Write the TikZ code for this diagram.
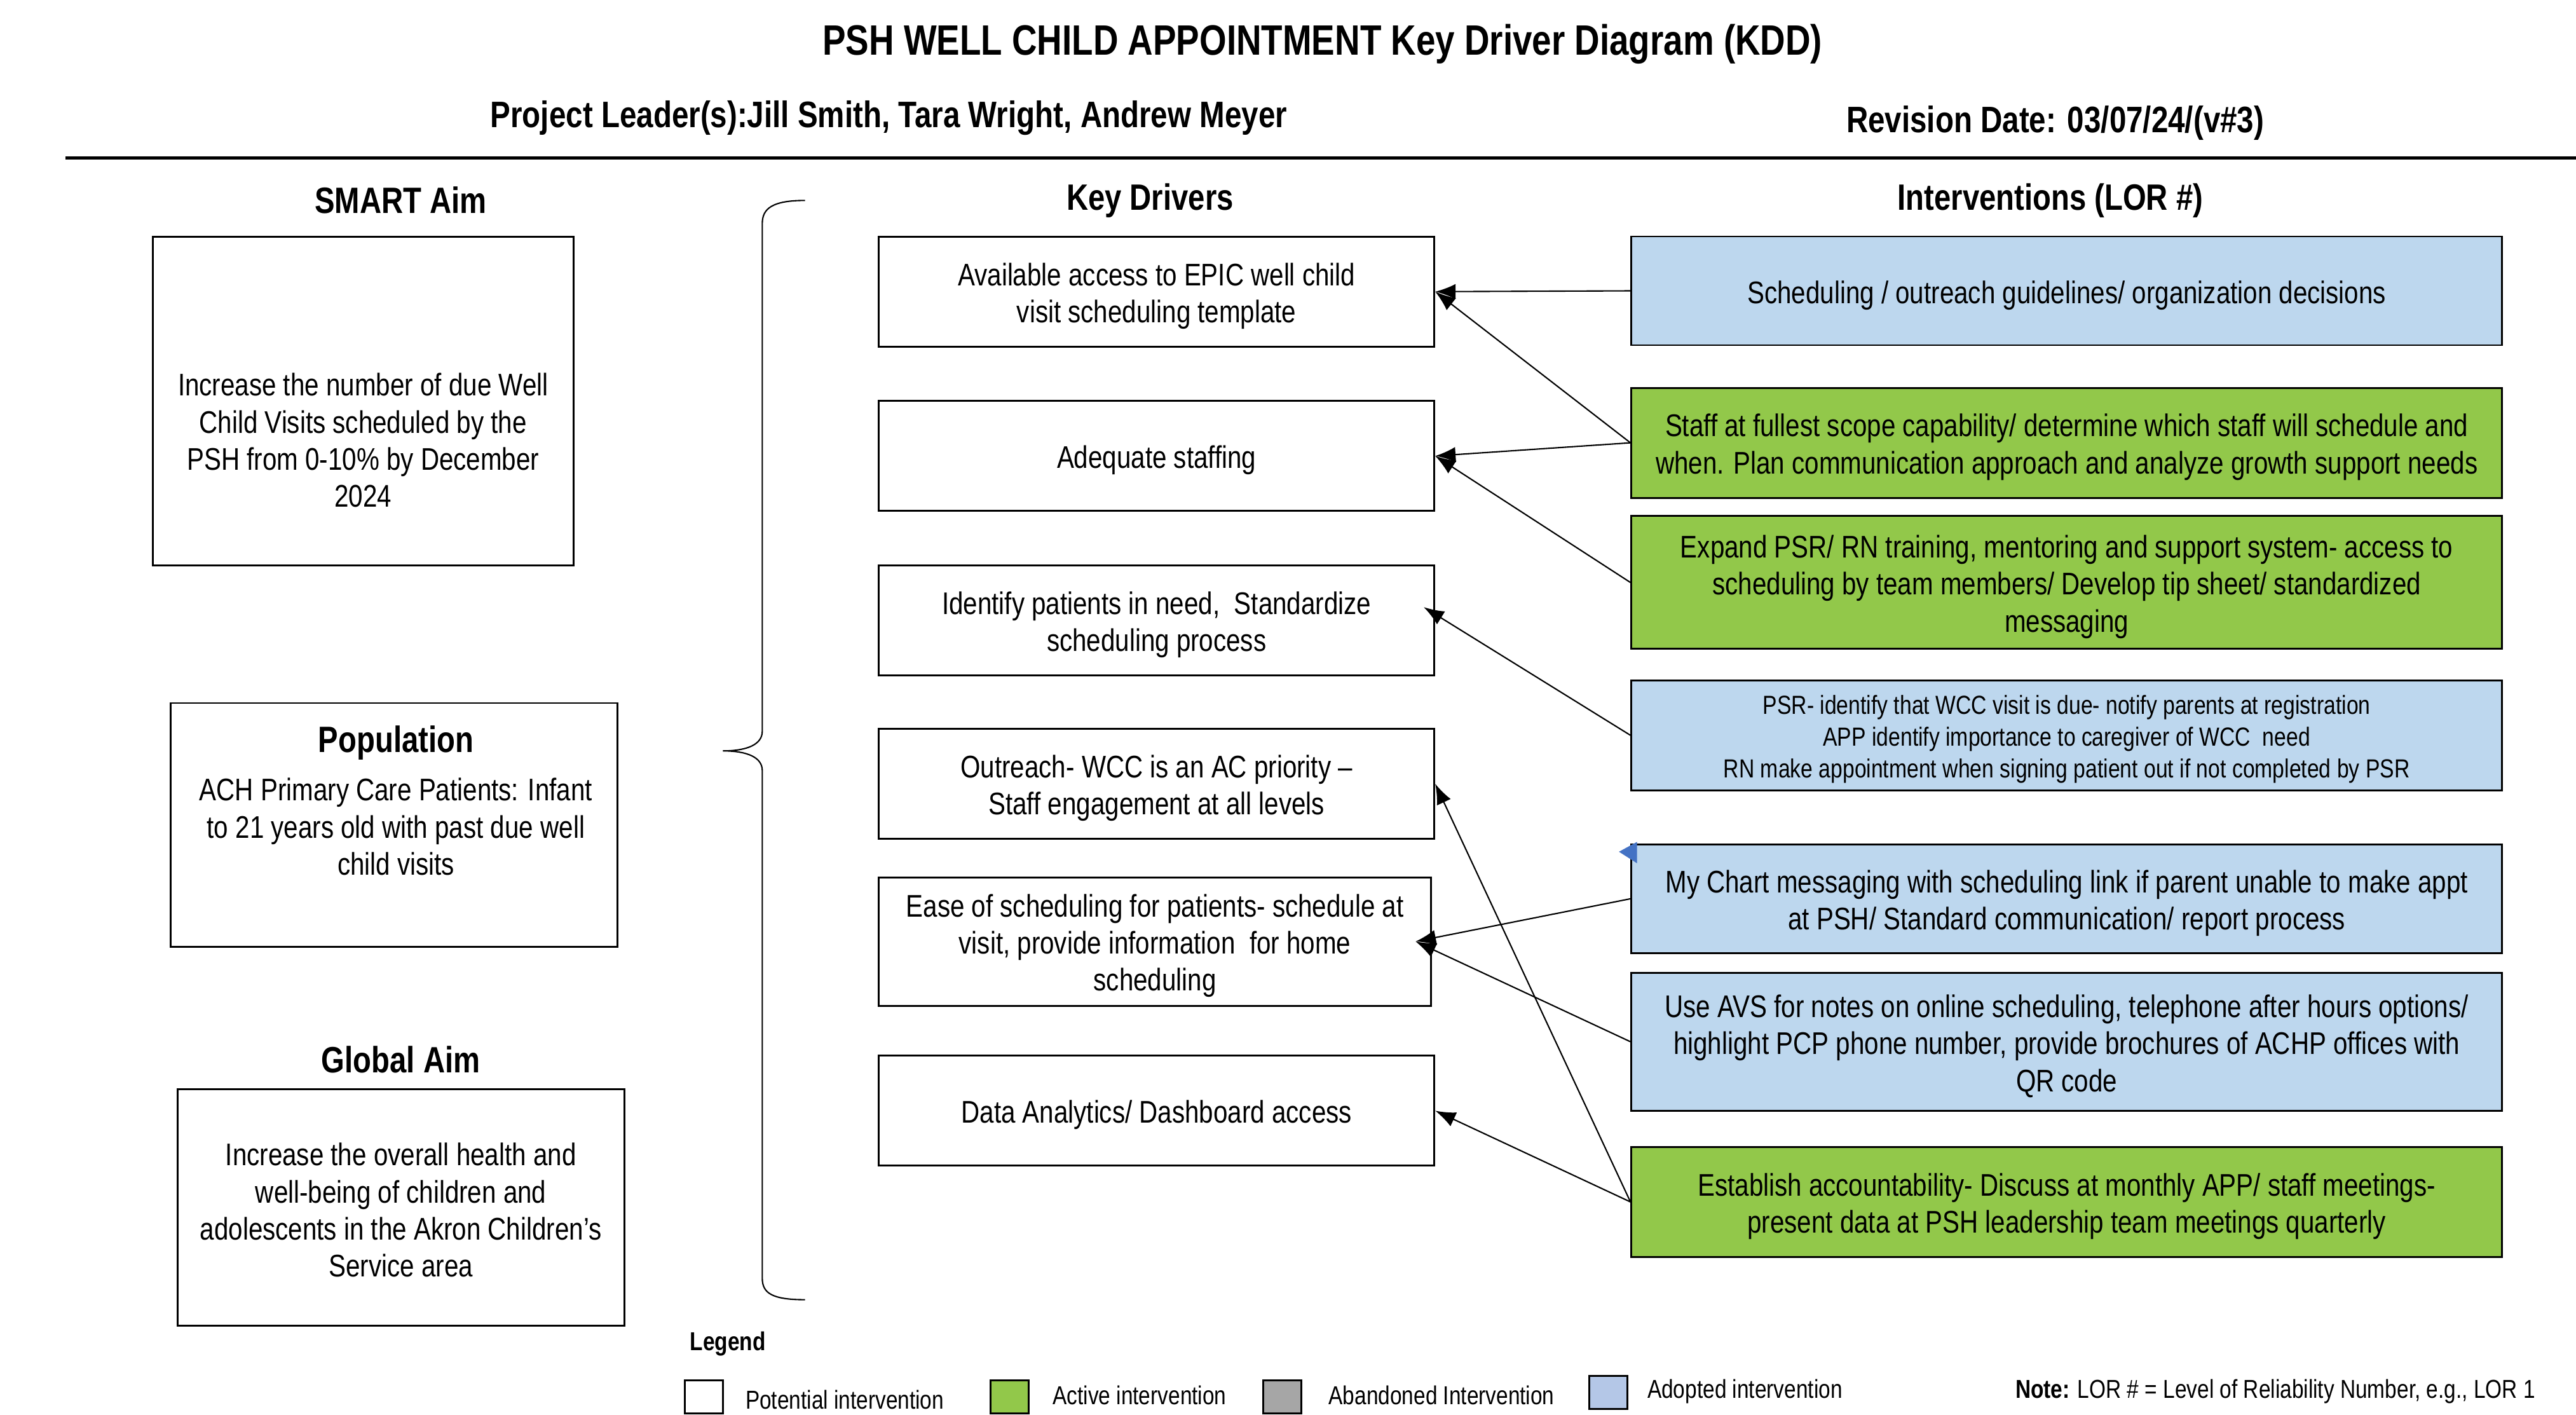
\documentclass[tikz,border=0pt]{standalone}
\usepackage{fontspec}
\setmainfont{Liberation Sans}[FakeStretch=0.82]
\usetikzlibrary{arrows.meta}
\usetikzlibrary{calc}
\definecolor{adoptblue}{RGB}{189,215,238}
\definecolor{activegreen}{RGB}{146,200,74}
\definecolor{abandongray}{RGB}{166,166,166}
\definecolor{legendblue}{RGB}{180,199,231}
\definecolor{tipblue}{RGB}{68,114,196}
\newcommand{\kddtitle}{\fontsize{19}{22}\bfseries\selectfont}
\newcommand{\kddsub}{\fontsize{16.5}{19}\bfseries\selectfont}
\newcommand{\kddhead}{\fontsize{16.4}{19}\bfseries\selectfont}
\newcommand{\kddbody}{\fontsize{14}{16.6}\selectfont}
\newcommand{\kddsmall}{\fontsize{11.7}{14.3}\selectfont}
\newcommand{\kddleg}{\fontsize{11.6}{13}\selectfont}
\tikzset{textdrop/.style={execute at begin node={\rule{0pt}{#1}}}}
\tikzset{twolines/.style={textdrop=30.6pt}}
\tikzset{threelines/.style={textdrop=47.2pt}}
\tikzset{aimbox/.style={draw, thick, inner sep=0pt}}
\tikzset{driver/.style={draw, thick, align=center, inner sep=0pt, minimum width=8.74cm, minimum height=1.73cm, font=\kddbody, textdrop=14pt}}
\tikzset{interv/.style={draw, thick, align=center, inner sep=0pt, minimum width=13.70cm, minimum height=1.73cm, font=\kddbody, textdrop=14pt}}
\tikzset{heading/.style={font=\kddhead}}
\tikzset{legbox/.style={draw, thick, minimum width=0.6cm, minimum height=0.52cm, inner sep=0pt}}
\tikzset{link/.style={-{Latex[length=3.2mm,width=2.4mm]}, semithick}}

\begin{document}
\begin{tikzpicture}[x=0.02585cm,y=-0.02585cm]
  \useasboundingbox (0,0) rectangle (1568,861);
  % header
  \node[font=\kddtitle] (title) at (805,27) {PSH WELL CHILD APPOINTMENT Key Driver Diagram (KDD)};
  \node[font=\kddsub] (leaders) at (541,72) {Project Leader(s):Jill Smith, Tara Wright, Andrew Meyer};
  \node[font=\kddsub] (revision) at (1251,75) {Revision Date: 03/07/24/(v\#3)};
  \coordinate (ruleL) at (40,96);
  \coordinate (ruleR) at (1568,96);
  \draw[line width=1.5pt] (ruleL) -- (ruleR);

  % column headings
  \node[heading] (smarthead) at (244,122) {SMART Aim};
  \node[heading] (keyhead) at (700,122) {Key Drivers};
  \node[heading] (inthead) at (1248,122) {Interventions (LOR \#)};
  \node[heading] (globalhead) at (244,645) {Global Aim};

  % aims
  \node[aimbox, minimum width=6.62cm, minimum height=5.17cm] (smartbox) at (221,244) {};
  \node[align=center, font=\kddbody] (smarttxt) at (221,268)
    {Increase the number of due Well\\ Child Visits scheduled by the\\ PSH from 0-10\% by December\\ 2024};
  \node[aimbox, minimum width=7.03cm, minimum height=3.83cm] (popbox) at (240,502) {};
  \node[align=center, font=\kddbody, anchor=north] (poptxt) at (241,437)
    {{\kddhead Population}\\[5pt] ACH Primary Care Patients: Infant\\ to 21 years old with past due well\\ child visits};
  \node[aimbox, minimum width=7.03cm, minimum height=3.72cm] (globalbox) at (244,735) {};
  \node[align=center, font=\kddbody] (globaltxt) at (244,736.5)
    {Increase the overall health and\\ well-being of children and\\ adolescents in the Akron Children's\\ Service area};

  % brace
  \coordinate (braceT) at (490,122);
  \coordinate (braceM) at (440,457);
  \coordinate (braceB) at (490,791);
  \draw[semithick] (braceT) .. controls (470,122) and (464,127) .. (464,136) -- (464,445)
    .. controls (464,453) and (455,457) .. (braceM)
    .. controls (455,457) and (464,461) .. (464,469) -- (464,778)
    .. controls (464,787) and (470,791) .. (braceB);

  % key drivers
  \node[driver, twolines] (d1) at (704,177.5) {Available access to EPIC well child\\ visit scheduling template};
  \node[driver] (d2) at (704,277.5) {Adequate staffing};
  \node[driver, twolines] (d3) at (704,377.5) {Identify patients in need,~ Standardize\\ scheduling process};
  \node[driver, twolines] (d4) at (704,477) {Outreach- WCC is an AC priority --\\ Staff engagement at all levels};
  \node[driver, threelines, minimum width=8.69cm, minimum height=2.02cm] (d5) at (703,573)
    {Ease of scheduling for patients- schedule at\\ visit, provide information~ for home\\ scheduling};
  \node[driver] (d6) at (704,676) {Data Analytics/ Dashboard access};
  \coordinate (d3in) at ($(d3.east)+(-7,-8)$);
  \coordinate (d5in) at ($(d5.east)+(-10,0)$);

  % interventions
  \node[interv, fill=adoptblue, minimum height=1.71cm] (i1) at (1258,177)
    {Scheduling / outreach guidelines/ organization decisions};
  \node[interv, twolines, fill=activegreen] (i2) at (1258,269.5)
    {Staff at fullest scope capability/ determine which staff will schedule and\\ when. Plan communication approach and analyze growth support needs};
  \node[interv, threelines, fill=activegreen, minimum height=2.09cm] (i3) at (1258,354.5)
    {Expand PSR/ RN training, mentoring and support system- access to\\ scheduling by team members/ Develop tip sheet/ standardized\\ messaging};
  \node[interv, fill=adoptblue, font=\kddsmall, textdrop=40.6pt] (i4) at (1258,447.5)
    {PSR- identify that WCC visit is due- notify parents at registration\\ APP identify importance to caregiver of WCC~ need\\ RN make appointment when signing patient out if not completed by PSR};
  \node[interv, twolines, fill=adoptblue, minimum height=1.71cm] (i5) at (1258,547)
    {My Chart messaging with scheduling link if parent unable to make appt\\ at PSH/ Standard communication/ report process};
  \node[interv, threelines, fill=adoptblue, minimum height=2.17cm] (i6) at (1258,634)
    {Use AVS for notes on online scheduling, telephone after hours options/\\ highlight PCP phone number, provide brochures of ACHP offices with\\ QR code};
  \node[interv, twolines, fill=activegreen] (i7) at (1258,731.5)
    {Establish accountability- Discuss at monthly APP/ staff meetings-\\ present data at PSH leadership team meetings quarterly};
  \fill[tipblue] ($(i5.north west)+(-7,5)$) -- ($(i5.north west)+(4,-1)$) -- ($(i5.north west)+(4,12)$) -- cycle;

  % links
  \foreach \u/\v in {
    i1/d1.east,
    i2/d1.east,
    i2/d2.east,
    i3/d2.east,
    i4/d3in,
    i5/d5in,
    i6/d5in,
    i7/d4.east,
    i7/d6.east%
  }{
    \draw[link] (\u.west) -- (\v);
  }

  % legend
  \node[font=\kddleg\bfseries] (legend) at (443,818) {Legend};
  \node[legbox, fill=white] (potbox) at (428.5,850) {};
  \node[font=\kddleg, anchor=west] (potlab) at (449,852) {Potential intervention};
  \node[legbox, fill=activegreen] (actbox) at (614.5,850) {};
  \node[font=\kddleg, anchor=west] (actlab) at (636,849) {Active intervention};
  \node[legbox, fill=abandongray] (abnbox) at (780.5,850) {};
  \node[font=\kddleg, anchor=west] (abnlab) at (804,849) {Abandoned Intervention};
  \node[legbox, fill=legendblue] (adpbox) at (979,847.5) {};
  \node[font=\kddleg, anchor=west] (adplab) at (998,847) {Adopted intervention};
  \node[font=\kddleg, anchor=west] (note) at (1222,847) {\textbf{Note:} LOR \# = Level of Reliability Number, e.g., LOR 1};
\end{tikzpicture}
\end{document}
